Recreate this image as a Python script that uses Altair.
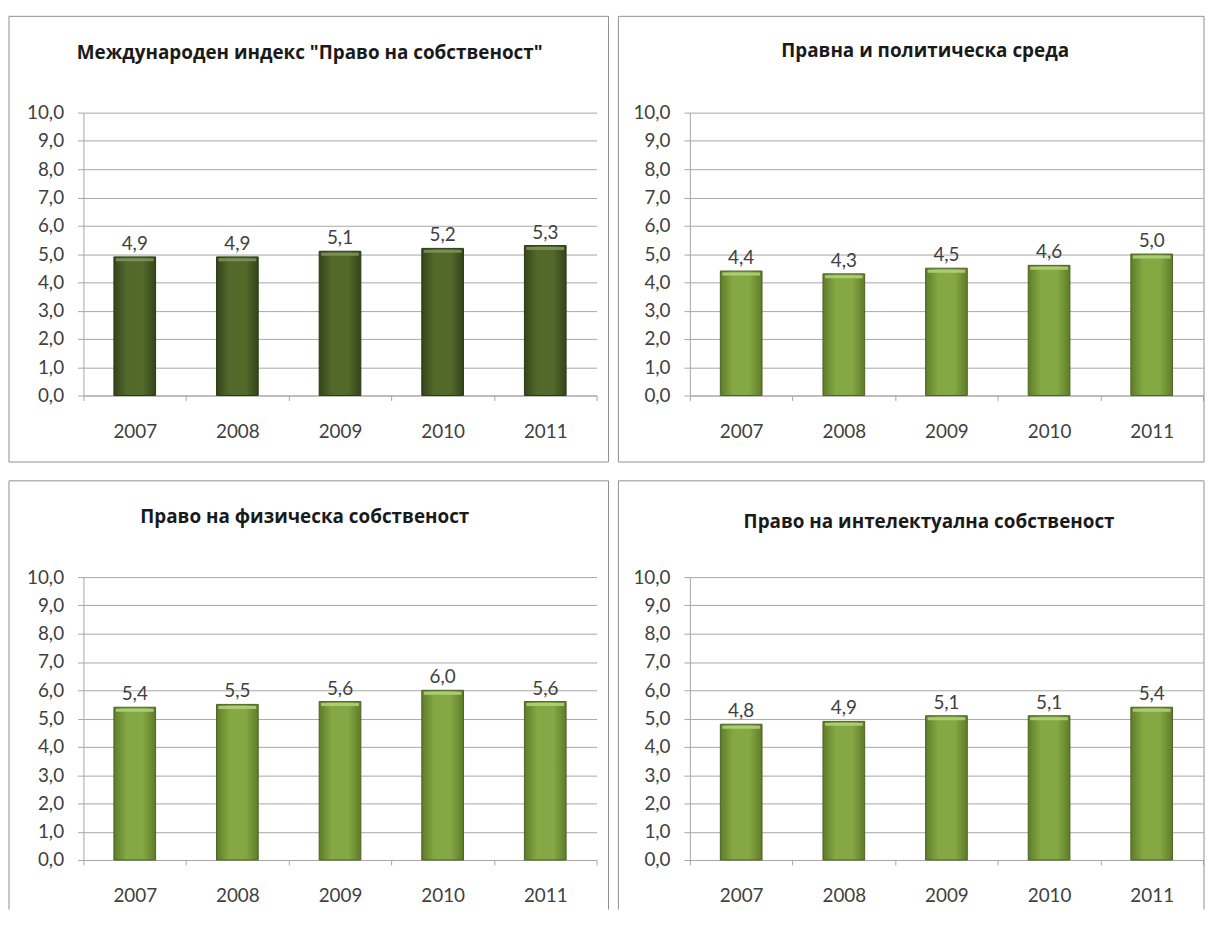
import altair as alt
import pandas as pd

years = ["2007", "2008", "2009", "2010", "2011"]
titles = [
    'Международен индекс "Право на собственост"',
    "Правна и политическа среда",
    "Право на физическа собственост",
    "Право на интелектуална собственост",
]
values_index = [4.9, 4.9, 5.1, 5.2, 5.3]
values_legal = [4.4, 4.3, 4.5, 4.6, 5.0]
values_physical = [5.4, 5.5, 5.6, 6.0, 5.6]
values_intellectual = [4.8, 4.9, 5.1, 5.1, 5.4]
y_ticks = [0, 1, 2, 3, 4, 5, 6, 7, 8, 9, 10]

W, H = 517, 285
NUM_FONT = "Lato"
TITLE_FONT = "Open Sans"
TEXT_COLOR = "#404040"
GRID = "#a6a6a6"
FRAME = "#8f8f8f"

DARK = dict(edge="#34441a", mid="#52692a", outline="#2b3814", cap="#7d9458")
LIGHT = dict(edge="#5f7c2a", mid="#84a843", outline="#4b6321", cap="#b3cf7a")

fmt = "replace(format(datum.value, '.1f'), '.', ',')"


def grad(edge, mid):
    return alt.Gradient(
        gradient="linear", x1=0, x2=1, y1=0, y2=0,
        stops=[
            alt.GradientStop(color=edge, offset=0),
            alt.GradientStop(color=mid, offset=0.3),
            alt.GradientStop(color=mid, offset=0.7),
            alt.GradientStop(color=edge, offset=1),
        ],
    )


def panel(title, values, style, title_x, title_y, left, right, bottom_open):
    df = pd.DataFrame({"year": years, "value": values})
    one = pd.DataFrame({"k": [0]})
    base = alt.Chart(df).transform_calculate(
        label="replace(format(datum.value, '.1f'), '.', ',')"
    )
    x = alt.X(
        "year:N", sort=years,
        scale=alt.Scale(paddingInner=0, paddingOuter=0),
        axis=alt.Axis(
            title=None, labelAngle=0, tickBand="extent", ticks=True, tickSize=5,
            tickColor=GRID, domainColor=GRID, labelPadding=22, labelFontSize=19,
            labelFont=NUM_FONT, labelColor=TEXT_COLOR, grid=False,
        ),
    )
    y = alt.Y(
        "value:Q",
        scale=alt.Scale(domain=[0, 10], nice=False),
        axis=alt.Axis(
            title=None, values=y_ticks, labelExpr=fmt, grid=True, gridColor=GRID,
            tickColor=GRID, domainColor=GRID, tickSize=6, labelPadding=14,
            labelFontSize=19, labelFont=NUM_FONT, labelColor=TEXT_COLOR,
        ),
    )
    bars = base.mark_bar(
        size=42, color=grad(style["edge"], style["mid"]),
        stroke=style["outline"], strokeWidth=1,
    ).encode(x=x, y=y)
    caps = base.mark_tick(
        color=style["cap"], thickness=3, size=38, yOffset=3, opacity=0.9
    ).encode(x=x, y=y)
    labels = base.mark_text(
        baseline="alphabetic", dy=-7, fontSize=19, font=NUM_FONT, color=TEXT_COLOR
    ).encode(x=x, y=y, text="label:N")
    ttl = alt.Chart(one).mark_text(
        fontSize=19, fontWeight="bold", font=TITLE_FONT, color="#1a1a1a",
        align="center", baseline="middle",
    ).encode(x=alt.value(title_x), y=alt.value(title_y), text=alt.value(title))
    top = -97
    if not bottom_open:
        frame = [alt.Chart(one).mark_rect(
            fillOpacity=0, stroke=FRAME, strokeWidth=1
        ).encode(x=alt.value(left), x2=alt.value(right),
                 y=alt.value(top), y2=alt.value(352))]
    else:
        bot = H + 50
        rule = alt.Chart(one).mark_rule(color=FRAME, strokeWidth=1)
        frame = [
            rule.encode(x=alt.value(left), x2=alt.value(right), y=alt.value(top)),
            rule.encode(x=alt.value(left), y=alt.value(top), y2=alt.value(bot)),
            rule.encode(x=alt.value(right), y=alt.value(top), y2=alt.value(bot)),
        ]
    return alt.layer(*frame, bars, caps, labels, ttl).properties(width=W, height=H)


p1 = panel(titles[0], values_index, DARK, 228, -60, -75, 529, False)
p2 = panel(titles[1], values_legal, LIGHT, 237, -62, -72, 518, False)
p3 = panel(titles[2], values_physical, LIGHT, 223, -61, -75, 529, True)
p4 = panel(titles[3], values_intellectual, LIGHT, 241, -56, -72, 518, True)

chart = alt.vconcat(
    alt.hconcat(p1, p2, spacing=8),
    alt.hconcat(p3, p4, spacing=8),
    spacing=17,
).properties(
    padding={"left": 0, "top": 4, "right": 0, "bottom": 0},
    background="white",
).configure_view(strokeWidth=0)

chart.save("out.html", embed_options={"renderer": "svg", "actions": False})
